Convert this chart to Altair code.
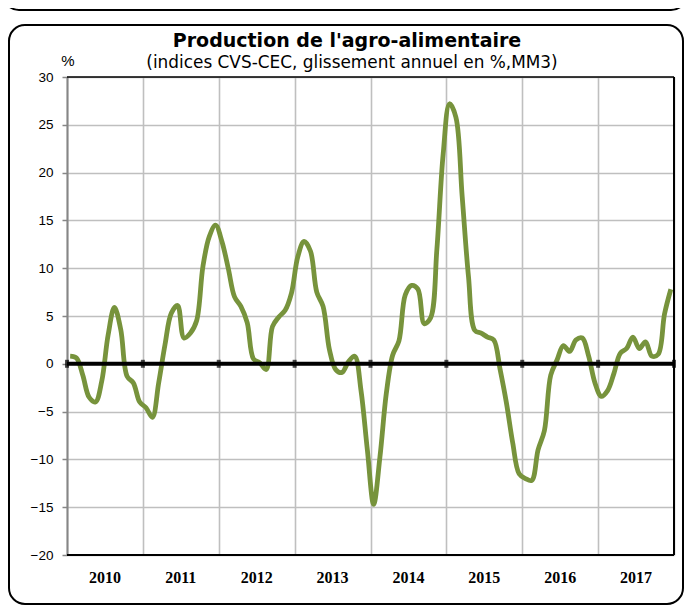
import altair as alt
import pandas as pd

# Monthly year-on-year growth (%), MM3, Jan 2010 .. Dec 2017
years = [2010, 2011, 2012, 2013, 2014, 2015, 2016, 2017]
v2010 = [0.8, 0.6, -1.2, -3.5, -4.0, -1.8, 3.0, 5.9, 3.6, -1.3, -2.0, -4.0]
v2011 = [-4.6, -5.6, -2.0, 2.0, 5.3, 6.1, 2.7, 3.2, 4.5, 10.2, 13.3, 14.5]
v2012 = [12.8, 10.0, 7.0, 6.0, 4.3, 0.5, 0.1, -0.6, 3.9, 4.9, 5.6, 7.4]
v2013 = [11.2, 12.8, 11.8, 7.5, 6.0, 1.5, -0.6, -0.9, 0.2, 0.8, -2.8, -9.0]
v2014 = [-14.7, -9.7, -3.1, 0.9, 2.4, 7.2, 8.2, 7.8, 4.2, 4.8, 12.0, 22.0]
v2015 = [27.2, 25.8, 17.5, 9.1, 3.5, 3.2, 2.8, 2.5, -0.6, -4.1, -8.3, -11.5]
v2016 = [-12.0, -12.2, -9.0, -7.0, -1.2, 0.4, 1.9, 1.3, 2.5, 2.7, 0.8, -2.0]
v2017 = [-3.4, -2.8, -1.0, 1.1, 1.6, 2.8, 1.6, 2.3, 0.8, 1.0, 5.2, 7.8]
y_ticks = [-20, -15, -10, -5, 0, 5, 10, 15, 20, 25, 30]

title_text = "Production de l'agro-alimentaire"
subtitle_text = "(indices CVS-CEC, glissement annuel en %,MM3)"
unit_text = "%"

values = v2010 + v2011 + v2012 + v2013 + v2014 + v2015 + v2016 + v2017
df = pd.DataFrame({"t": [m + 0.5 for m in range(len(values))], "v": values})
bounds = pd.DataFrame({"t": [12 * i for i in range(len(years) + 1)]})
year_df = pd.DataFrame({"t": [12 * i + 6 for i in range(len(years))],
                        "label": [str(y) for y in years]})
zero_df = pd.DataFrame({"v": [0]})
one = pd.DataFrame({"a": [0]})

W, H = 607, 478
x_scale = alt.Scale(domain=[0, 96], nice=False, zero=False)
y_scale = alt.Scale(domain=[-20, 30], nice=False)

x_axis = alt.Axis(
    values=[12 * i for i in range(len(years) + 1)],
    grid=True,
    gridColor="#BFBFBF",
    gridWidth=1.6,
    ticks=False,
    domain=False,
    labels=False,
    title=None,
)
y_axis = alt.Axis(
    values=y_ticks,
    grid=True,
    gridColor="#BFBFBF",
    gridWidth=1.6,
    tickColor="#868686",
    tickSize=5,
    tickWidth=1.5,
    domainColor="#868686",
    domainWidth=2,
    labelFont="Liberation Sans",
    labelFontSize=13.5,
    labelColor="black",
    labelPadding=9,
    title=None,
)

line = alt.Chart(df).mark_line(
    color="#77933C", strokeWidth=4.8, interpolate="catmull-rom"
).encode(
    x=alt.X("t:Q", scale=x_scale, axis=x_axis),
    y=alt.Y("v:Q", scale=y_scale, axis=y_axis),
)

zero_line = alt.Chart(zero_df).mark_rule(color="black", strokeWidth=4).encode(
    y=alt.Y("v:Q", scale=y_scale)
)
year_ticks = alt.Chart(bounds).mark_tick(
    color="black", size=8, thickness=4, orient="vertical"
).encode(x=alt.X("t:Q", scale=x_scale), y=alt.datum(0))

year_labels = alt.Chart(year_df).mark_text(
    font="Liberation Serif", fontWeight="bold", fontSize=16, color="black",
    align="center", baseline="middle"
).encode(x=alt.X("t:Q", scale=x_scale), y=alt.value(H + 23), text="label:N")

top_rule = alt.Chart(one).mark_rule(color="black", strokeWidth=1.5).encode(y=alt.datum(30))
bottom_rule = alt.Chart(one).mark_rule(color="black", strokeWidth=2).encode(y=alt.datum(-20))
right_rule = alt.Chart(one).mark_rule(color="black", strokeWidth=2).encode(x=alt.datum(96))

frame = alt.Chart(one).mark_rect(
    fill=None, stroke="black", strokeWidth=2, cornerRadius=16
).encode(x=alt.value(-58), x2=alt.value(616), y=alt.value(-52), y2=alt.value(527))
frame_prev = alt.Chart(one).mark_rect(
    fill=None, stroke="black", strokeWidth=2, cornerRadius=16
).encode(x=alt.value(-64), x2=alt.value(620), y=alt.value(-140), y2=alt.value(-67))

title = alt.Chart(one).mark_text(
    text=title_text, font="DejaVu Sans", fontWeight="bold", fontSize=19,
    align="center", baseline="alphabetic", color="black"
).encode(x=alt.value(280), y=alt.value(-30))
subtitle = alt.Chart(one).mark_text(
    text=subtitle_text, font="DejaVu Sans", fontSize=16.9,
    align="center", baseline="alphabetic", color="black"
).encode(x=alt.value(285), y=alt.value(-9))
unit = alt.Chart(one).mark_text(
    text=unit_text, font="Liberation Sans", fontSize=15,
    align="center", baseline="alphabetic", color="black"
).encode(x=alt.value(1), y=alt.value(-11))

chart = alt.layer(
    frame_prev, frame, line, zero_line, year_ticks, top_rule, bottom_rule, right_rule,
    year_labels, title, subtitle, unit
).properties(
    width=W, height=H,
    autosize=alt.AutoSizeParams(type="none"),
    padding={"left": 59, "top": 69, "right": 11, "bottom": 50},
    background="white",
).configure_view(stroke=None)

chart.save("out.html", embed_options={"renderer": "svg", "actions": False})
